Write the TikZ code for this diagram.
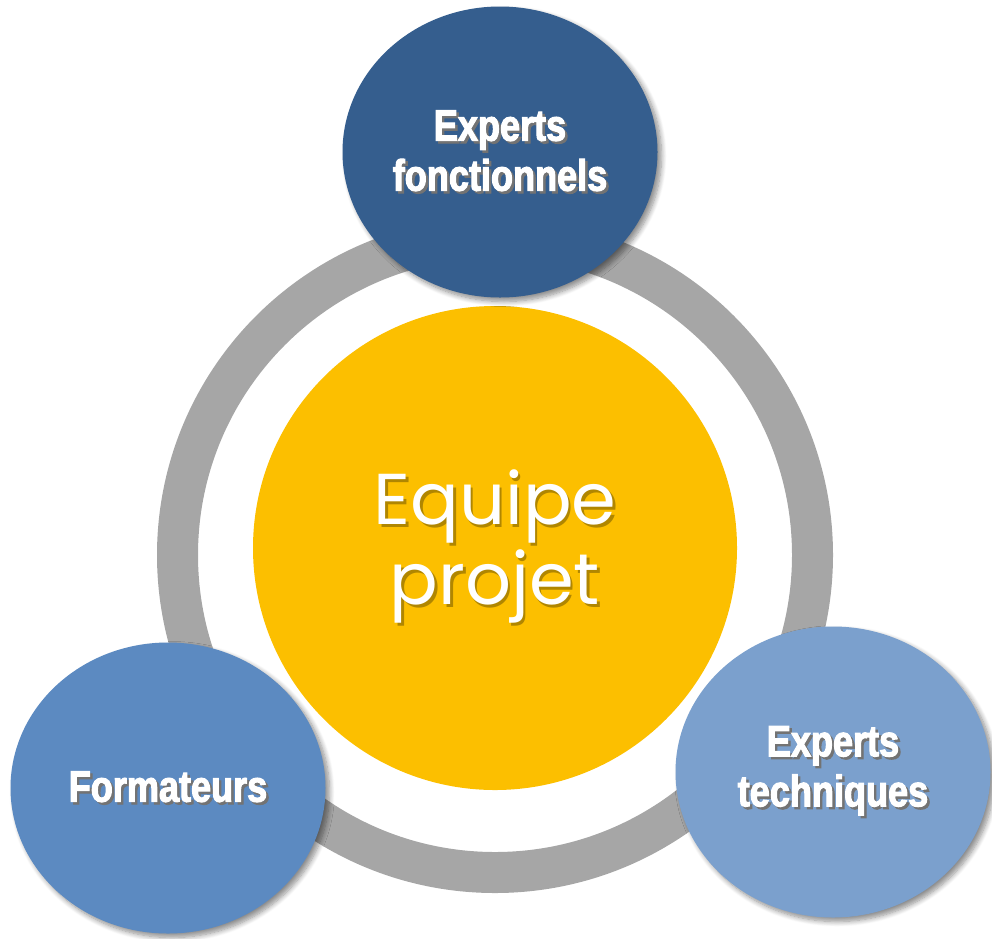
\documentclass[tikz,border=0pt]{standalone}
\usepackage{fontspec}
\usepackage{tikz}
\usetikzlibrary{shapes.geometric, shadows.blur}
\newfontfamily\labelfont{Liberation Sans}[FakeStretch=0.82, BoldFeatures={FakeBold=2.4}]
\newfontfamily\hubfont{Poppins}
\definecolor{ringgray}{HTML}{A6A6A6}
\definecolor{hubyellow}{HTML}{FCBF00}
\definecolor{darkblue}{HTML}{355E8E}
\definecolor{midblue}{HTML}{5C8AC1}
\definecolor{lightblue}{HTML}{7BA0CD}
\newcommand\shtext[2][black!55]{\makebox[0pt][l]{\hspace{2.5pt}\raisebox{-2.5pt}{\color{#1}#2}}#2}
\tikzset{ring/.style={draw=ringgray, line width=41pt}}
\tikzset{hub/.style={circle, fill=hubyellow, minimum size=484pt, inner sep=0pt, text=white, align=center,
    font=\hubfont\fontsize{72}{80}\selectfont}}
\tikzset{member/.style={ellipse, minimum width=315pt, minimum height=291pt, inner sep=0pt, text=white, align=center,
    font=\labelfont\bfseries\fontsize{44}{50}\selectfont,
    blur shadow={shadow xshift=4pt, shadow yshift=-4pt, shadow blur steps=8, shadow blur radius=5pt, shadow opacity=45}}}

\begin{document}
\begin{tikzpicture}[x=1pt, y=-1pt]
	\useasboundingbox (0,0) rectangle (992,938);
	\draw[ring] (495,555) circle (317.5pt);
	\node[hub] (hub) at (495,548) {\shtext[hubyellow!70!black]{Equipe}\\\shtext[hubyellow!70!black]{projet}};

	\node[member, fill=darkblue] (fonct) at (500,152) {\shtext{Experts}\\\shtext{fonctionnels}};
	\node[member, fill=midblue] (form) at (168,788) {\shtext{Formateurs}};
	\node[member, fill=lightblue] (tech) at (833,772) {\shtext{Experts}\\\shtext{techniques}};
\end{tikzpicture}
\end{document}
